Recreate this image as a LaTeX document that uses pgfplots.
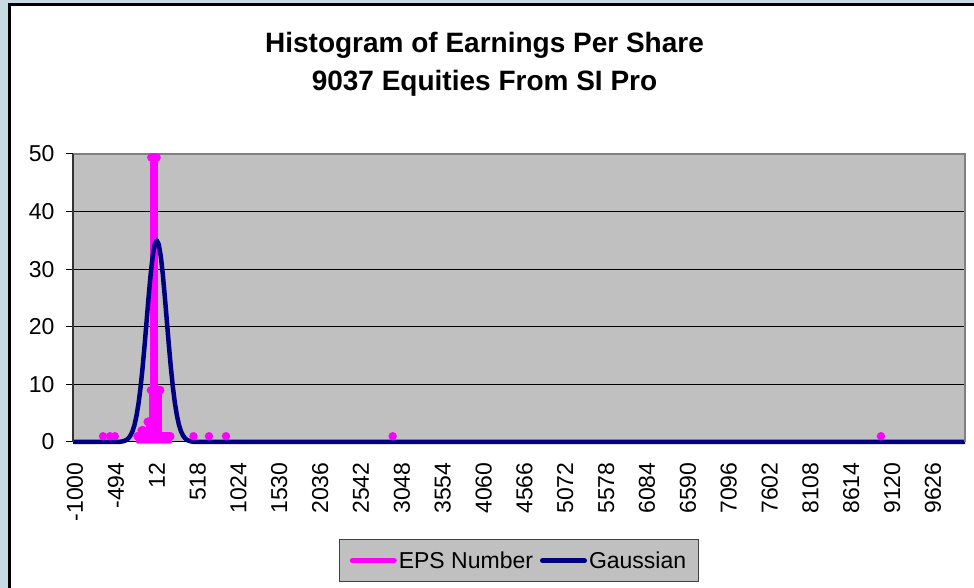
\documentclass[border=0pt]{standalone}
\usepackage{pgfplots}
\pgfplotsset{compat=1.18}
\usepackage{pgfplotstable}
\usepackage{fontspec}
\setmainfont{Liberation Sans}
\definecolor{outerblue}{RGB}{201,219,226}
\definecolor{plotgray}{RGB}{192,192,192}
\definecolor{pinkc}{RGB}{255,0,255}
\definecolor{navyc}{RGB}{0,0,128}
\definecolor{bordgray}{RGB}{128,128,128}

\pgfplotstableread{
x y
-653 1
-567 1
-507 1
-225 1
-220 1
-215 1
-210 1
-205 1
-200 1
-195 1
-190 1
-185 1
-180 1
-175 2
-170 2
-165 2
-160 2
-155 2
-150 2
-145 1
-140 1
-135 1
-130 1
-125 1
-120 1
-115 1
-110 1
-105 1
-100 3.5
-95 3.5
-90 3.5
-85 3.5
-80 3.5
-75 3.5
-70 3.5
-65 3.5
-60 9
-55 62
-50 88
-45 115
-40 140
-35 165
-30 190
-25 210
-20 230
-15 200
-10 170
-5 140
0 110
5 85
10 60
15 9
20 9
25 9
30 9
35 9
40 9
45 9
50 9
55 9
60 1
65 1
70 1
75 1
80 1
85 1
90 1
95 1
100 1
105 1
110 1
115 1
120 1
125 1
130 1
135 1
140 1
145 1
150 1
155 1
160 1
165 1
170 1
175 1
180 1
467 1
659 1
870 1
2934 1
8981 1
}\epsdata

\pgfplotstableread{
x y
-1025 0
-463 0
-438 0.05
-413 0.10
-388 0.19
-363 0.36
-338 0.65
-313 1.13
-288 1.88
-263 2.99
-238 4.59
-213 6.75
-188 9.53
-163 12.93
-138 16.84
-113 21.06
-88 25.28
-63 29.15
-38 32.27
-13 34.30
12 35.00
37 34.30
62 32.27
87 29.15
112 25.28
137 21.06
162 16.84
187 12.93
212 9.53
237 6.75
262 4.59
287 2.99
312 1.88
337 1.13
362 0.65
387 0.36
412 0.19
437 0.10
462 0.05
487 0
10022 0
}\gaussdata

\begin{document}
\begin{tikzpicture}[x=1pt,y=1pt]
\useasboundingbox (0,0) rectangle (974,588);
\fill[outerblue] (0,0) rectangle (974,588);
\draw[line width=3pt, fill=white] (9.5,583) -- (990,583) -- (990,-10) -- (9.5,-10) -- cycle;
\node[anchor=base, font=\fontsize{28}{34}\selectfont\bfseries] at (484.5,535) {Histogram of Earnings Per Share};
\node[anchor=base, font=\fontsize{28}{34}\selectfont\bfseries] at (484.5,497) {9037 Equities From SI Pro};
\begin{axis}[
  at={(73pt,146pt)}, anchor=south west,
  scale only axis, width=892pt, height=288pt,
  xmin=-1025, xmax=10022, ymin=0, ymax=50,
  clip=false,
  axis background/.style={fill=plotgray},
  axis line style={draw=none},
  ytick={0,10,20,30,40,50},
  xtick={-1000,-494,12,518,1024,1530,2036,2542,3048,3554,4060,4566,5072,5578,6084,6590,7096,7602,8108,8614,9120,9626},
  xticklabels={-1000,-494,12,518,1024,1530,2036,2542,3048,3554,4060,4566,5072,5578,6084,6590,7096,7602,8108,8614,9120,9626},
  scaled x ticks=false,
  tick pos=left,
  tick align=outside,
  major tick length=7pt,
  xtick style={draw=none},
  ytick style={black, line width=1pt},
  ymajorgrids, grid style={black, line width=1pt},
  tick label style={font=\fontsize{23}{27}\selectfont},
  /pgf/number format/assume math mode=true,
  xticklabel style={rotate=90, anchor=east},
  xticklabel shift=10pt,
  yticklabel shift=8pt,
  legend columns=2,
  legend image code/.code={\draw[#1, line cap=round] (2.5pt,0pt) -- (44.5pt,0pt);},
  legend style={at={(0.5,-0.337)}, anchor=north, fill=plotgray, draw=black!75, line width=1pt,
    font=\fontsize{23}{27}\selectfont, inner xsep=10pt, inner ysep=10pt,
    /tikz/every even column/.append style={column sep=5pt}},
]
\addplot[pinkc, line width=3.2pt, line cap=round, ycomb, forget plot,
  mark=*, mark size=2.5pt, mark options={draw=none, fill=pinkc},
  restrict y to domain*=0:49.4] table[x=x,y=y] {\epsdata};
\addplot[navyc, line width=4.5pt, line join=round, forget plot] table[x=x,y=y] {\gaussdata};
\addlegendimage{pinkc, line width=5pt}
\addlegendentry{EPS Number}
\addlegendimage{navyc, line width=5pt}
\addlegendentry{Gaussian}
\draw[bordgray, line width=1.5pt] (rel axis cs:0,1) -- (rel axis cs:1,1) -- (rel axis cs:1,0);
\draw[black!80, line width=1.5pt] (rel axis cs:0,0) -- (rel axis cs:0,1);
\end{axis}
\end{tikzpicture}
\end{document}
